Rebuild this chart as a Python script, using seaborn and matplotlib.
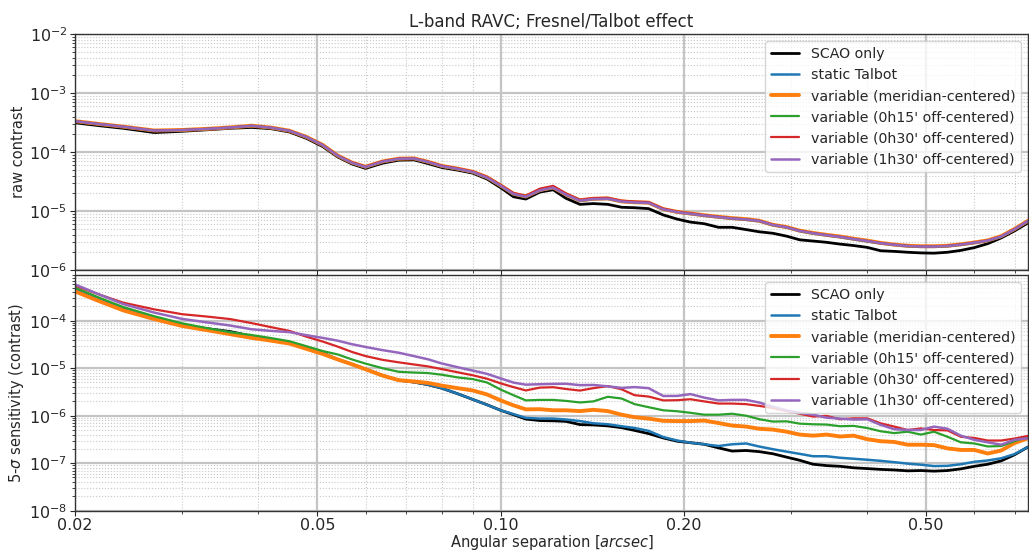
import numpy as np
import pandas as pd
import matplotlib
matplotlib.use("Agg")
import matplotlib.pyplot as plt
import matplotlib.ticker as mticker
import seaborn as sns

# ---------------- data ----------------
sep = [0.020, 0.022, 0.024, 0.027, 0.030, 0.033, 0.036, 0.039, 0.042, 0.045,
       0.048, 0.051, 0.054, 0.057, 0.060, 0.064, 0.068, 0.072, 0.076, 0.080,
       0.085, 0.090, 0.095, 0.100, 0.105, 0.110, 0.116, 0.122, 0.128, 0.135,
       0.142, 0.150, 0.158, 0.166, 0.175, 0.185, 0.195, 0.205, 0.216, 0.228,
       0.240, 0.253, 0.266, 0.280, 0.295, 0.310, 0.326, 0.343, 0.361, 0.380,
       0.400, 0.421, 0.443, 0.466, 0.490, 0.515, 0.542, 0.570, 0.600, 0.631,
       0.664, 0.698, 0.735]

labels = ["SCAO only", "static Talbot", "variable (meridian-centered)",
          "variable (0h15' off-centered)", "variable (0h30' off-centered)",
          "variable (1h30' off-centered)"]

# raw contrast (top panel)
raw_scao = [3.15e-4, 2.8e-4, 2.54e-4, 2.15e-4, 2.26e-4, 2.4e-4, 2.54e-4, 2.63e-4, 2.5e-4, 2.2e-4,
            1.71e-4, 1.25e-4, 8.3e-5, 6.3e-5, 5.3e-5, 6.5e-5, 7.3e-5, 7.4e-5, 6.4e-5, 5.5e-5,
            4.95e-5, 4.4e-5, 3.5e-5, 2.5e-5, 1.75e-5, 1.6e-5, 2.1e-5, 2.3e-5, 1.65e-5, 1.3e-5,
            1.34e-5, 1.3e-5, 1.16e-5, 1.14e-5, 1.1e-5, 8.6e-6, 7.3e-6, 6.5e-6, 6.1e-6, 5.3e-6,
            5.3e-6, 4.85e-6, 4.45e-6, 4.2e-6, 3.75e-6, 3.25e-6, 3.1e-6, 2.95e-6, 2.75e-6, 2.6e-6,
            2.42e-6, 2.12e-6, 2.07e-6, 2.0e-6, 1.95e-6, 1.93e-6, 2.0e-6, 2.15e-6, 2.4e-6, 2.8e-6,
            3.5e-6, 4.6e-6, 6.3e-6]
raw_static = [3.33e-4, 2.97e-4, 2.69e-4, 2.31e-4, 2.36e-4, 2.47e-4, 2.61e-4, 2.78e-4, 2.59e-4, 2.29e-4,
              1.79e-4, 1.31e-4, 8.6e-5, 6.55e-5, 5.55e-5, 6.85e-5, 7.65e-5, 7.75e-5, 6.75e-5, 5.75e-5,
              5.15e-5, 4.55e-5, 3.65e-5, 2.68e-5, 1.93e-5, 1.73e-5, 2.22e-5, 2.46e-5, 1.88e-5, 1.49e-5,
              1.59e-5, 1.61e-5, 1.44e-5, 1.39e-5, 1.37e-5, 1.06e-5, 9.5e-6, 8.9e-6, 8.3e-6, 7.8e-6,
              7.4e-6, 7.1e-6, 6.7e-6, 5.75e-6, 5.25e-6, 4.55e-6, 4.15e-6, 3.85e-6, 3.6e-6, 3.3e-6,
              3.05e-6, 2.82e-6, 2.65e-6, 2.52e-6, 2.47e-6, 2.47e-6, 2.52e-6, 2.67e-6, 2.87e-6, 3.12e-6,
              3.65e-6, 4.85e-6, 6.7e-6]
raw_meridian = [3.36e-4, 2.99e-4, 2.71e-4, 2.33e-4, 2.38e-4, 2.49e-4, 2.63e-4, 2.81e-4, 2.61e-4, 2.31e-4,
                1.81e-4, 1.33e-4, 8.75e-5, 6.65e-5, 5.65e-5, 6.95e-5, 7.75e-5, 7.85e-5, 6.85e-5, 5.85e-5,
                5.25e-5, 4.65e-5, 3.75e-5, 2.72e-5, 1.97e-5, 1.77e-5, 2.28e-5, 2.52e-5, 1.92e-5, 1.52e-5,
                1.62e-5, 1.64e-5, 1.46e-5, 1.41e-5, 1.39e-5, 1.08e-5, 9.7e-6, 9.1e-6, 8.5e-6, 8.0e-6,
                7.6e-6, 7.3e-6, 6.85e-6, 5.85e-6, 5.35e-6, 4.65e-6, 4.25e-6, 3.95e-6, 3.7e-6, 3.4e-6,
                3.15e-6, 2.88e-6, 2.7e-6, 2.58e-6, 2.53e-6, 2.53e-6, 2.58e-6, 2.73e-6, 2.93e-6, 3.18e-6,
                3.75e-6, 4.95e-6, 6.85e-6]
raw_0h15 = [3.35e-4, 2.98e-4, 2.7e-4, 2.32e-4, 2.37e-4, 2.48e-4, 2.62e-4, 2.8e-4, 2.6e-4, 2.3e-4,
            1.8e-4, 1.32e-4, 8.7e-5, 6.6e-5, 5.6e-5, 6.9e-5, 7.7e-5, 7.8e-5, 6.8e-5, 5.8e-5,
            5.2e-5, 4.6e-5, 3.7e-5, 2.7e-5, 1.95e-5, 1.76e-5, 2.3e-5, 2.55e-5, 1.92e-5, 1.51e-5,
            1.61e-5, 1.63e-5, 1.46e-5, 1.41e-5, 1.39e-5, 1.08e-5, 9.7e-6, 9.05e-6, 8.45e-6, 7.95e-6,
            7.5e-6, 7.2e-6, 6.8e-6, 5.8e-6, 5.3e-6, 4.6e-6, 4.2e-6, 3.9e-6, 3.65e-6, 3.35e-6,
            3.1e-6, 2.85e-6, 2.68e-6, 2.55e-6, 2.5e-6, 2.5e-6, 2.55e-6, 2.7e-6, 2.9e-6, 3.15e-6,
            3.7e-6, 4.9e-6, 6.8e-6]
raw_0h30 = [3.36e-4, 2.99e-4, 2.71e-4, 2.33e-4, 2.38e-4, 2.49e-4, 2.63e-4, 2.81e-4, 2.61e-4, 2.31e-4,
            1.81e-4, 1.33e-4, 8.8e-5, 6.7e-5, 5.7e-5, 7.0e-5, 7.8e-5, 7.9e-5, 6.9e-5, 5.9e-5,
            5.3e-5, 4.7e-5, 3.8e-5, 2.78e-5, 2.02e-5, 1.82e-5, 2.4e-5, 2.68e-5, 2.0e-5, 1.56e-5,
            1.66e-5, 1.68e-5, 1.5e-5, 1.45e-5, 1.42e-5, 1.1e-5, 9.8e-6, 9.15e-6, 8.5e-6, 8.0e-6,
            7.55e-6, 7.25e-6, 6.85e-6, 5.85e-6, 5.35e-6, 4.65e-6, 4.25e-6, 3.92e-6, 3.68e-6, 3.38e-6,
            3.12e-6, 2.87e-6, 2.7e-6, 2.57e-6, 2.52e-6, 2.52e-6, 2.57e-6, 2.72e-6, 2.92e-6, 3.17e-6,
            3.72e-6, 4.92e-6, 6.85e-6]
raw_1h30 = [3.35e-4, 2.98e-4, 2.7e-4, 2.32e-4, 2.37e-4, 2.48e-4, 2.62e-4, 2.8e-4, 2.6e-4, 2.3e-4,
            1.8e-4, 1.32e-4, 8.7e-5, 6.6e-5, 5.6e-5, 6.9e-5, 7.7e-5, 7.8e-5, 6.8e-5, 5.8e-5,
            5.2e-5, 4.6e-5, 3.7e-5, 2.7e-5, 1.95e-5, 1.75e-5, 2.25e-5, 2.5e-5, 1.9e-5, 1.5e-5,
            1.6e-5, 1.62e-5, 1.45e-5, 1.4e-5, 1.38e-5, 1.07e-5, 9.6e-6, 9.0e-6, 8.4e-6, 7.9e-6,
            7.5e-6, 7.2e-6, 6.8e-6, 5.8e-6, 5.3e-6, 4.6e-6, 4.2e-6, 3.9e-6, 3.65e-6, 3.35e-6,
            3.1e-6, 2.85e-6, 2.68e-6, 2.55e-6, 2.5e-6, 2.5e-6, 2.55e-6, 2.7e-6, 2.9e-6, 3.15e-6,
            3.7e-6, 4.9e-6, 6.8e-6]

# 5-sigma sensitivity (bottom panel)
sens_scao = [4.4e-4, 2.65e-4, 1.73e-4, 1.1e-4, 8.0e-5, 6.8e-5, 5.9e-5, 4.7e-5, 4.0e-5, 3.5e-5,
             2.7e-5, 2.1e-5, 1.53e-5, 1.21e-5, 9.6e-6, 7.0e-6, 5.6e-6, 5.1e-6, 4.5e-6, 3.8e-6,
             2.9e-6, 2.2e-6, 1.7e-6, 1.3e-6, 1.05e-6, 8.5e-7, 7.9e-7, 7.8e-7, 7.6e-7, 6.5e-7,
             6.4e-7, 6.1e-7, 5.6e-7, 4.9e-7, 4.2e-7, 3.4e-7, 2.9e-7, 2.7e-7, 2.5e-7, 2.1e-7,
             1.8e-7, 1.85e-7, 1.75e-7, 1.58e-7, 1.34e-7, 1.15e-7, 9.5e-8, 8.9e-8, 8.6e-8, 8.0e-8,
             7.7e-8, 7.4e-8, 7.2e-8, 6.9e-8, 7.0e-8, 6.8e-8, 7.0e-8, 7.6e-8, 8.6e-8, 9.5e-8,
             1.12e-7, 1.5e-7, 2.2e-7]
sens_static = [4.45e-4, 2.7e-4, 1.75e-4, 1.1e-4, 7.8e-5, 6.7e-5, 5.7e-5, 4.6e-5, 3.95e-5, 3.5e-5,
               2.7e-5, 2.1e-5, 1.53e-5, 1.21e-5, 9.6e-6, 7.0e-6, 5.6e-6, 5.1e-6, 4.5e-6, 3.8e-6,
               2.9e-6, 2.2e-6, 1.69e-6, 1.3e-6, 1.08e-6, 9.0e-7, 8.7e-7, 8.7e-7, 8.3e-7, 7.7e-7,
               6.93e-7, 6.6e-7, 6.0e-7, 5.5e-7, 4.8e-7, 3.55e-7, 3.0e-7, 2.7e-7, 2.5e-7, 2.3e-7,
               2.5e-7, 2.6e-7, 2.24e-7, 1.97e-7, 1.75e-7, 1.57e-7, 1.4e-7, 1.4e-7, 1.3e-7, 1.24e-7,
               1.18e-7, 1.12e-7, 1.05e-7, 9.8e-8, 9.3e-8, 8.7e-8, 8.8e-8, 9.5e-8, 1.07e-7, 1.14e-7,
               1.27e-7, 1.55e-7, 2.2e-7]
sens_meridian = [4.15e-4, 2.53e-4, 1.65e-4, 1.08e-4, 7.75e-5, 6.3e-5, 5.2e-5, 4.35e-5, 3.8e-5, 3.3e-5,
                 2.55e-5, 2.0e-5, 1.53e-5, 1.21e-5, 9.5e-6, 7.0e-6, 5.6e-6, 5.25e-6, 4.9e-6, 4.3e-6,
                 3.8e-6, 3.4e-6, 2.8e-6, 2.1e-6, 1.65e-6, 1.36e-6, 1.37e-6, 1.3e-6, 1.3e-6, 1.25e-6,
                 1.33e-6, 1.25e-6, 1.05e-6, 9.3e-7, 8.7e-7, 7.8e-7, 7.7e-7, 7.7e-7, 7.9e-7, 7.0e-7,
                 6.2e-7, 5.9e-7, 5.3e-7, 5.1e-7, 4.6e-7, 4.0e-7, 3.8e-7, 4.0e-7, 3.65e-7, 3.8e-7,
                 3.2e-7, 2.9e-7, 2.8e-7, 2.45e-7, 2.45e-7, 2.4e-7, 2.05e-7, 1.9e-7, 1.9e-7, 1.6e-7,
                 1.85e-7, 2.65e-7, 3.36e-7]
sens_0h15 = [4.98e-4, 3.0e-4, 1.94e-4, 1.24e-4, 8.8e-5, 6.95e-5, 5.7e-5, 5.0e-5, 4.3e-5, 3.7e-5,
             2.9e-5, 2.3e-5, 1.95e-5, 1.53e-5, 1.25e-5, 1.0e-5, 8.4e-6, 8.1e-6, 7.9e-6, 7.3e-6,
             6.4e-6, 5.9e-6, 5.0e-6, 3.55e-6, 2.7e-6, 2.1e-6, 2.15e-6, 2.15e-6, 2.05e-6, 1.9e-6,
             2.0e-6, 2.5e-6, 2.3e-6, 1.75e-6, 1.51e-6, 1.3e-6, 1.24e-6, 1.15e-6, 1.05e-6, 1.05e-6,
             1.1e-6, 1.0e-6, 8.43e-7, 7.52e-7, 7.6e-7, 6.8e-7, 6.6e-7, 6.5e-7, 6.0e-7, 6.1e-7,
             5.5e-7, 4.7e-7, 4.3e-7, 4.6e-7, 4.0e-7, 4.6e-7, 3.6e-7, 2.75e-7, 2.6e-7, 2.25e-7,
             2.3e-7, 2.9e-7, 3.64e-7]
sens_0h30 = [5.5e-4, 3.5e-4, 2.4e-4, 1.73e-4, 1.37e-4, 1.22e-4, 1.08e-4, 8.9e-5, 7.3e-5, 6.1e-5,
             4.6e-5, 3.65e-5, 2.85e-5, 2.2e-5, 1.8e-5, 1.5e-5, 1.33e-5, 1.2e-5, 1.09e-5, 9.6e-6,
             8.2e-6, 7.1e-6, 6.0e-6, 4.8e-6, 4.0e-6, 3.4e-6, 3.9e-6, 3.98e-6, 3.65e-6, 3.38e-6,
             3.8e-6, 4.2e-6, 3.6e-6, 2.7e-6, 2.53e-6, 2.1e-6, 2.12e-6, 2.22e-6, 2.0e-6, 1.8e-6,
             1.8e-6, 1.75e-6, 1.61e-6, 1.45e-6, 1.25e-6, 1.1e-6, 9.6e-7, 9.9e-7, 8.43e-7, 8.8e-7,
             8.8e-7, 6.9e-7, 5.9e-7, 5.0e-7, 5.4e-7, 5.0e-7, 4.9e-7, 3.6e-7, 3.4e-7, 3.0e-7,
             3.0e-7, 3.3e-7, 3.76e-7]
sens_1h30 = [5.8e-4, 3.5e-4, 2.24e-4, 1.48e-4, 1.09e-4, 9.2e-5, 7.9e-5, 6.6e-5, 6.1e-5, 5.75e-5,
             4.95e-5, 4.35e-5, 3.8e-5, 3.2e-5, 2.8e-5, 2.4e-5, 2.12e-5, 1.8e-5, 1.54e-5, 1.26e-5,
             1.05e-5, 8.9e-6, 7.6e-6, 6.1e-6, 4.98e-6, 4.5e-6, 4.6e-6, 4.67e-6, 4.7e-6, 4.4e-6,
             4.44e-6, 4.15e-6, 3.85e-6, 4.0e-6, 3.8e-6, 2.6e-6, 2.61e-6, 2.85e-6, 2.4e-6, 2.1e-6,
             2.15e-6, 2.15e-6, 1.89e-6, 1.55e-6, 1.3e-6, 1.15e-6, 1.05e-6, 9.1e-7, 8.7e-7, 8.3e-7,
             8.4e-7, 6.4e-7, 5.2e-7, 5.0e-7, 5.0e-7, 5.9e-7, 5.3e-7, 3.8e-7, 3.1e-7, 2.75e-7,
             2.45e-7, 3.1e-7, 3.36e-7]

colors = ["black", "#1f77b4", "#ff7f0e", "#2ca02c", "#d62728", "#9467bd"]
widths = [2.0, 1.8, 2.8, 1.6, 1.6, 1.8]

raw_series = [raw_scao, raw_static, raw_meridian, raw_0h15, raw_0h30, raw_1h30]
sens_series = [sens_scao, sens_static, sens_meridian, sens_0h15, sens_0h30, sens_1h30]

# ---------------- plot ----------------
sns.set_style("white")
plt.rcParams["font.family"] = ["DejaVu Sans"]
plt.rcParams["font.size"] = 10.5

fig = plt.figure(figsize=(10.29, 5.56), dpi=100)
ax1 = fig.add_axes([0.0729, 0.5144, 0.9262, 0.4239])
ax2 = fig.add_axes([0.0729, 0.0815, 0.9262, 0.4232], sharex=ax1)

def draw(ax, series, ylim):
    for lab, vals, c, lw in zip(labels, series, colors, widths):
        df = pd.DataFrame({"sep": sep, "val": vals})
        sns.lineplot(data=df, x="sep", y="val", ax=ax, color=c, lw=lw, label=lab)
    ax.set_xscale("log")
    ax.set_yscale("log")
    ax.set_xlim(0.02, 0.735)
    ax.set_ylim(*ylim)
    ax.yaxis.set_major_locator(mticker.LogLocator(base=10, numticks=12))
    ax.yaxis.set_minor_locator(mticker.LogLocator(base=10, subs=np.arange(2, 10), numticks=12))
    ax.yaxis.set_minor_formatter(mticker.NullFormatter())
    ax.xaxis.set_major_locator(mticker.FixedLocator([0.02, 0.05, 0.1, 0.2, 0.5]))
    ax.xaxis.set_major_formatter(mticker.FormatStrFormatter("%.2f"))
    ax.xaxis.set_minor_locator(mticker.LogLocator(base=10, subs=np.arange(2, 10), numticks=12))
    ax.xaxis.set_minor_formatter(mticker.NullFormatter())
    ax.grid(True, which="major", color="#c4c4c4", lw=1.6, ls="-")
    ax.grid(True, which="minor", color="#c8c8c8", lw=0.8, ls=":")
    ax.tick_params(which="both", direction="out", bottom=True, left=True,
                   labelsize=11.5, pad=2)
    ax.tick_params(which="major", length=3.5)
    ax.tick_params(which="minor", length=2)
    for s in ax.spines.values():
        s.set_color("#333333")
        s.set_linewidth(1.0)
    leg = ax.legend(loc="upper right", fontsize=10.2, framealpha=0.8,
                    borderaxespad=0.5, handlelength=2.0)
    leg.get_frame().set_edgecolor("#cccccc")

draw(ax1, raw_series, (1e-6, 1e-2))
draw(ax2, sens_series, (1e-8, 9e-4))

ax1.set_xlabel("")
ax1.tick_params(labelbottom=False)
ax1.set_ylabel("raw contrast", fontsize=10.5, labelpad=2)
ax1.set_title("L-band RAVC; Fresnel/Talbot effect", fontsize=12, pad=5)
ax2.set_ylabel(r"5-$\sigma$ sensitivity (contrast)", fontsize=10.5, labelpad=2)
ax2.set_xlabel(r"Angular separation [$arcsec$]", fontsize=10.5, labelpad=0)

fig.savefig("out.png", dpi=100)
